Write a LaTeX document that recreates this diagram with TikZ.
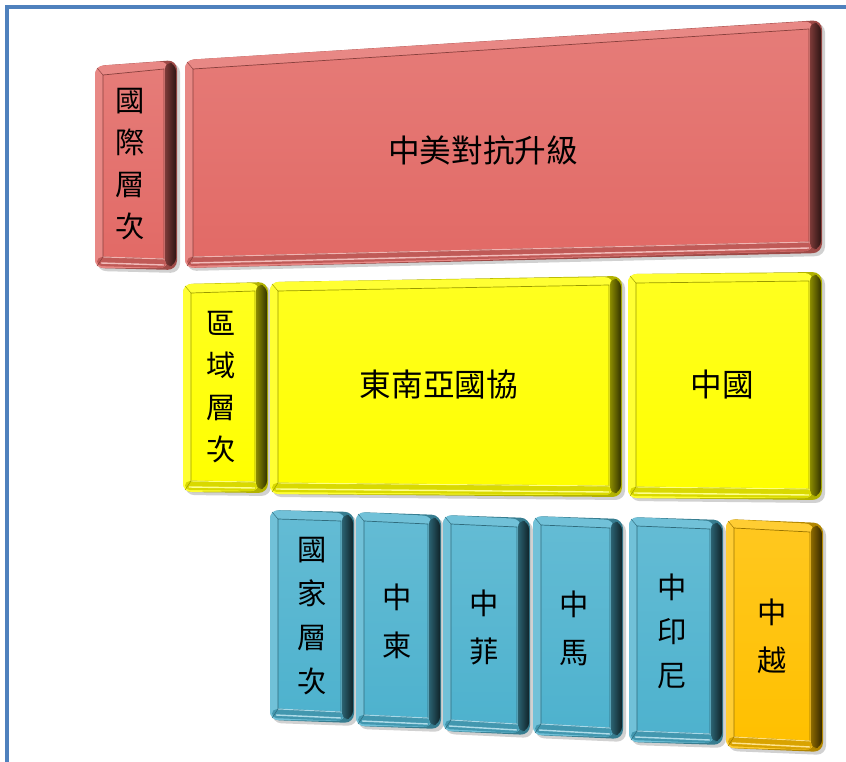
\documentclass[tikz,border=0pt]{standalone}
\usepackage{fontspec}
\newfontfamily\cjk{Noto Sans CJK TC}
\usetikzlibrary{calc}
\definecolor{frameblue}{RGB}{79,129,189}
\definecolor{boxred}{RGB}{226,106,102}
\definecolor{boxyellow}{RGB}{255,255,0}
\definecolor{boxblue}{RGB}{78,178,206}
\definecolor{boxorange}{RGB}{255,192,0}
\tikzset{
  hlabel/.style={font={\cjk\fontsize{27}{32}\selectfont}, text=black, inner sep=0pt},
  vlabelA/.style={font={\cjk\fontsize{25}{36}\selectfont}, text=black, align=center, inner sep=0pt},
  vlabelB/.style={font={\cjk\fontsize{25}{37.5}\selectfont}, text=black, align=center, inner sep=0pt},
  vlabelC/.style={font={\cjk\fontsize{25}{41}\selectfont}, text=black, align=center, inner sep=0pt},
}
% #1 name, #2 TL, #3 TR, #4 BR, #5 BL, #6 colour, #7 text position, #8 label style, #9 text
\newcommand\bevbox[9]{%
  \coordinate (#1tl) at (#2);
  \coordinate (#1tr) at (#3);
  \coordinate (#1br) at (#4);
  \coordinate (#1bl) at (#5);
  \fill[black!18, rounded corners=8pt] ($(#1tl)+(2,3)$) -- ($(#1tr)+(3,3)$) -- ($(#1br)+(3,3)$) -- ($(#1bl)+(2,3)$) -- cycle;
  \fill[#6!70!black, rounded corners=8pt] (#1tl) -- (#1tr) -- (#1br) -- (#1bl) -- cycle;
  \fill[#6!80!white, rounded corners=7pt] (#1tl) -- ($(#1tr)+(-9,1)$) -- ($(#1br)+(-9,-2)$) -- (#1bl) -- cycle;
  \shade[left color=#6!55!black, right color=#6!20!black, rounded corners=6pt]
     ($(#1tr)+(-12,2)$) -- ($(#1tr)+(-1,4)$) -- ($(#1br)+(-1,-5)$) -- ($(#1br)+(-12,-3)$) -- cycle;
  \fill[#6!85!black, rounded corners=4pt] ($(#1bl)+(2,-11)$) -- ($(#1br)+(-11,-11)$) -- ($(#1br)+(-11,-2)$) -- ($(#1bl)+(2,-2)$) -- cycle;
  \draw[white!55!#6, line width=1.2pt] ($(#1bl)+(6,-5)$) -- ($(#1br)+(-13,-5)$);
  \shade[top color=#6!88!white, bottom color=#6, draw=#6!60!black, line width=0.6pt]
     ($(#1tl)+(8,9)$) -- ($(#1tr)+(-13,9)$) -- ($(#1br)+(-13,-11)$) -- ($(#1bl)+(8,-11)$) -- cycle;
  \draw[white!50!#6, line width=0.8pt] ($(#1bl)+(8,-11)$) -- ($(#1br)+(-13,-11)$);
  \draw[#6!60!black, line width=0.4pt] ($(#1tl)+(2,2)$) -- ($(#1tl)+(8,9)$);
  \draw[#6!60!black, line width=0.4pt] ($(#1bl)+(2,-2)$) -- ($(#1bl)+(8,-11)$);
  \node[#8] (#1) at (#7) {#9};
}
\begin{document}
\begin{tikzpicture}[x=0.03cm, y=-0.03cm]
\useasboundingbox (0,0) rectangle (846,762);
\fill[white] (0,0) rectangle (846,762);
\draw[frameblue, line width=2.6pt] (7,762) -- (7,7) -- (846,7);
% international level
\bevbox{intl}{95,66}{177,60}{177,270}{95,268}{boxred}{130,164}{vlabelA}{國\\際\\層\\次}
\bevbox{usch}{185,60}{822,20}{822,253}{185,268}{boxred}{483,150}{hlabel}{中美對抗升級}
% regional level
\bevbox{regn}{183,284}{268,282}{268,493}{183,492}{boxyellow}{221,387}{vlabelA}{區\\域\\層\\次}
\bevbox{asean}{270,282}{622,276}{622,497}{270,494}{boxyellow}{439,385}{hlabel}{東南亞國協}
\bevbox{china}{628,274}{822,272}{822,500}{628,498}{boxyellow}{722,385}{hlabel}{中國}
% national level
\bevbox{natl}{270,510}{354,512}{354,723}{270,720}{boxblue}{312,616}{vlabelB}{國\\家\\層\\次}
\bevbox{zhdong}{356,512}{441,515}{441,729}{356,726}{boxblue}{397,621}{vlabelC}{中\\柬}
\bevbox{zhfei}{443,515}{530,518}{530,735}{443,731}{boxblue}{484,627}{vlabelC}{中\\菲}
\bevbox{zhma}{533,516}{623,519}{623,739}{533,735}{boxblue}{574,628}{vlabelC}{中\\馬}
\bevbox{zhyin}{629,517}{723,520}{723,745}{629,742}{boxblue}{672,631}{vlabelB}{中\\印\\尼}
\bevbox{zhyue}{726,519}{823,523}{823,752}{726,748}{boxorange}{772,636}{vlabelC}{中\\越}
\end{tikzpicture}
\end{document}
